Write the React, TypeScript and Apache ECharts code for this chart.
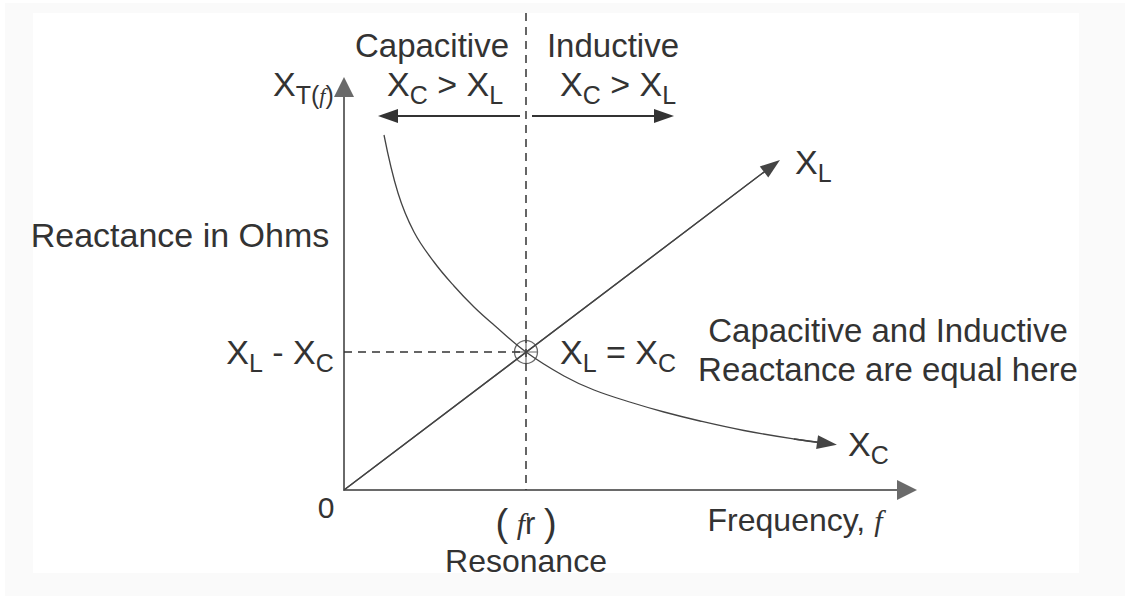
import React, { useEffect, useRef } from "react";
import * as echarts from "echarts";

// ---- data (units: arbitrary reactance / frequency units) ----
const resonancePoint = [182, 138]; // (fr, XL = XC)
const xlPoints = [
  [0, 0],
  [428, 324],
];
const xcPoints = [
  [40, 355], [54, 297], [70, 258], [90, 228], [110, 204], [130, 183], [150, 165],
  [182, 138], [220, 114], [250, 100], [289, 87], [320, 78], [356, 69], [400, 59.5],
  [450, 51], [483, 46.5],
];
const regionArrowLevel = 374;
const capacitiveArrow = [[176, regionArrowLevel], [44, regionArrowLevel]];
const inductiveArrow = [[188, regionArrowLevel], [320, regionArrowLevel]];
const xMax = 563;
const yMax = 403;

const FONT = "'Liberation Sans', Arial, Helvetica, sans-serif";
const INK = "#333";

const rich = {
  s: { fontSize: 25, fontFamily: FONT, fill: INK, padding: [22, 0, 0, 0] },
  i: { fontSize: 30, fontFamily: "'Liberation Serif', serif", fontStyle: "italic", fill: INK },
  p: { fontSize: 38, fontFamily: FONT, fill: INK },
  is: { fontSize: 22, fontFamily: "'Liberation Serif', serif", fontStyle: "italic", fill: INK, padding: [22, 0, 0, 0] },
};

function txt(x: number, y: number, text: string, size = 33, align = "center") {
  return {
    type: "text",
    z: 10,
    style: {
      x,
      y,
      text,
      fontSize: size,
      fontFamily: FONT,
      fill: INK,
      align,
      verticalAlign: "middle",
      rich,
    },
  };
}

export default function App() {
  const ref = useRef<HTMLDivElement>(null);
  useEffect(() => {
    const chart = echarts.init(ref.current!, null, { renderer: "svg" });
    const axisLine = {
      show: true,
      symbol: ["none", "triangle"],
      symbolSize: [20, 20],
      lineStyle: { color: "#6a6a6a", width: 2 },
    };
    const option: any = {
      animation: false,
      backgroundColor: "#ffffff",
      grid: { left: 344, top: 87, right: 218, bottom: 106 },
      xAxis: {
        type: "value",
        min: 0,
        max: xMax,
        axisLine,
        axisTick: { show: false },
        axisLabel: { show: false },
        splitLine: { show: false },
      },
      yAxis: {
        type: "value",
        min: 0,
        max: yMax,
        axisLine,
        axisTick: { show: false },
        axisLabel: { show: false },
        splitLine: { show: false },
      },
      series: [
        {
          name: "XL",
          type: "line",
          data: xlPoints,
          symbol: "none",
          lineStyle: { color: "#444", width: 1.3 },
          markLine: {
            silent: true,
            symbol: ["none", "triangle"],
            symbolSize: [14, 20],
            label: { show: false },
            lineStyle: { color: "#444", width: 1.3, type: "solid" },
            data: [[{ coord: xlPoints[0] }, { coord: xlPoints[1] }]],
          },
        },
        {
          name: "XC",
          type: "line",
          data: xcPoints,
          smooth: 0.4,
          symbol: "none",
          lineStyle: { color: "#444", width: 1.3 },
          markLine: {
            silent: true,
            symbol: ["none", "triangle"],
            symbolSize: [14, 20],
            label: { show: false },
            lineStyle: { color: "#444", width: 1.3, type: "solid" },
            data: [
              [
                { coord: xcPoints[xcPoints.length - 2] },
                { coord: xcPoints[xcPoints.length - 1] },
              ],
            ],
          },
        },
        {
          name: "regions",
          type: "line",
          data: [],
          markLine: {
            silent: true,
            symbol: ["none", "triangle"],
            symbolSize: [14, 20],
            label: { show: false },
            lineStyle: { color: "#333", width: 2, type: "solid" },
            data: [
              [{ coord: capacitiveArrow[0] }, { coord: capacitiveArrow[1] }],
              [{ coord: inductiveArrow[0] }, { coord: inductiveArrow[1] }],
            ],
          },
        },
        {
          name: "guides",
          type: "line",
          data: [],
          markLine: {
            silent: true,
            symbol: "none",
            label: { show: false },
            lineStyle: { color: "#333", width: 1.5, type: [8, 6] },
            data: [[{ coord: [0, resonancePoint[1]] }, { coord: resonancePoint }]],
          },
        },
        {
          name: "resonance",
          type: "scatter",
          data: [resonancePoint],
          symbol: "circle",
          symbolSize: 23,
          z: 5,
          itemStyle: { color: "rgba(0,0,0,0)", borderColor: "#444", borderWidth: 1.3 },
        },
        {
          name: "cross",
          type: "scatter",
          data: [resonancePoint],
          symbol: "path://M10,0 L10,20 M0,10 L20,10",
          symbolSize: 22,
          z: 5,
          itemStyle: { color: "none", borderColor: "#444", borderWidth: 1.2 },
        },
      ],
    };
    chart.setOption(option);

    const bottom = chart.convertToPixel({ gridIndex: 0 }, [resonancePoint[0], 0]) as number[];

    chart.setOption({
      graphic: [
        { type: "rect", z: -2, silent: true, shape: { x: 5, y: 3, width: 1120, height: 593 }, style: { fill: "#fafafa" } },
        { type: "rect", z: -1, silent: true, shape: { x: 33, y: 13, width: 1046, height: 560 }, style: { fill: "#ffffff" } },
        {
          type: "line",
          z: 3,
          silent: true,
          shape: { x1: bottom[0], y1: 13, x2: bottom[0], y2: bottom[1] },
          style: { stroke: "#333", lineWidth: 1.5, lineDash: [8, 6] },
        },
        txt(432, 45, "Capacitive"),
        txt(613, 45, "Inductive"),
        txt(445, 84, "X{s|C} > X{s|L}", 34),
        txt(618, 84, "X{s|C} > X{s|L}", 34),
        txt(273, 84, "X{s|T(}{is|f}{s|)}", 34, "left"),
        txt(180, 235, "Reactance in Ohms", 34),
        txt(280, 352, "X{s|L} - X{s|C}", 34),
        txt(618, 352, "X{s|L} = X{s|C}", 34),
        txt(326, 507, "0", 30),
        txt(526, 523, "{p|(} {i|f}r {p|)}", 31),
        txt(526, 561, "Resonance", 32),
        txt(795, 520, "Frequency, {i|f}", 32),
        txt(888, 330, "Capacitive and Inductive", 33),
        txt(888, 369, "Reactance are equal here", 33),
        txt(795, 162, "X{s|L}", 34, "left"),
        txt(848, 444, "X{s|C}", 34, "left"),
      ],
    });
    return () => chart.dispose();
  }, []);
  return (
    <div
      ref={ref}
      style={{ position: "fixed", left: 0, top: 0, width: 1125, height: 596 }}
    />
  );
}
